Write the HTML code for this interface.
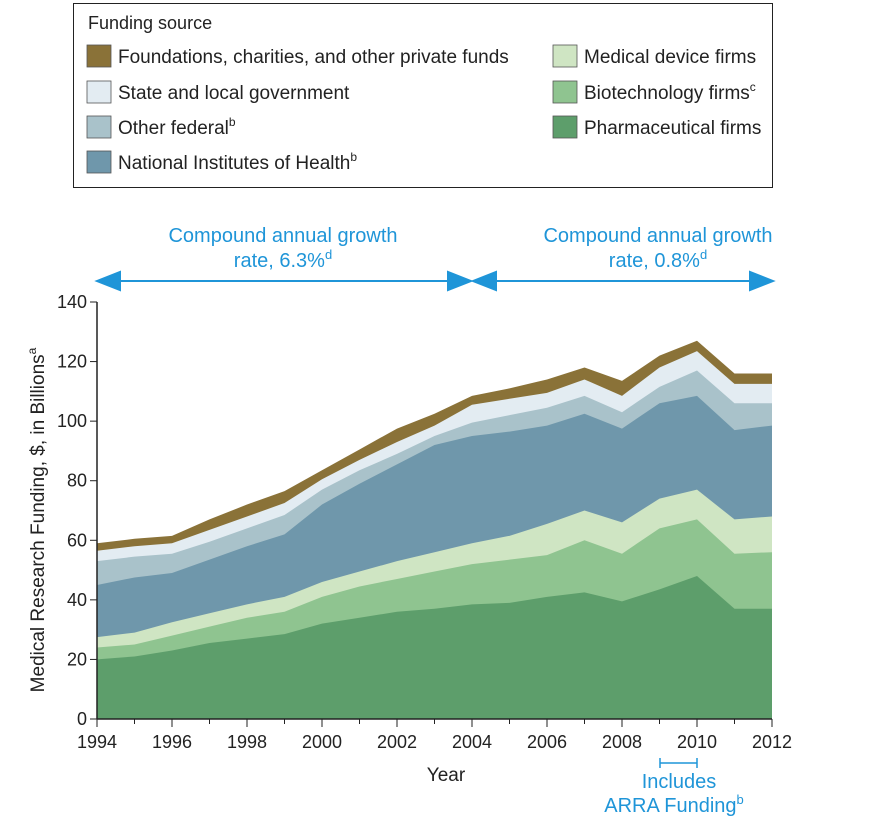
<!DOCTYPE html>
<html><head><meta charset="utf-8"><style>
body{margin:0;background:#fff;font-family:"Liberation Sans",sans-serif;}
</style></head><body>
<svg id="s" width="880" height="823" xmlns="http://www.w3.org/2000/svg" font-family="Liberation Sans, sans-serif">
<rect x="73.5" y="3.5" width="699" height="184" fill="#fff" stroke="#222" stroke-width="1"/>
<text x="88" y="29" font-size="18" fill="#222">Funding source</text>
<g font-size="17" fill="#222" stroke="#555" stroke-width="0.8">
<rect x="87" y="45" width="24" height="22" fill="#8a7238"/>
<rect x="87" y="81" width="24" height="22" fill="#e3ecf2"/>
<rect x="87" y="116" width="24" height="22" fill="#a9c2ca"/>
<rect x="87" y="151" width="24" height="22" fill="#6f97ab"/>
<rect x="553" y="45" width="24" height="22" fill="#cfe5c3"/>
<rect x="553" y="81" width="24" height="22" fill="#8fc490"/>
<rect x="553" y="116" width="24" height="22" fill="#5d9e6b"/>
</g>
<g font-size="19" fill="#222">
<text x="118" y="63">Foundations, charities, and other private funds</text>
<text x="118" y="99">State and local government</text>
<text x="118" y="134">Other federal<tspan font-size="12" dy="-8">b</tspan></text>
<text x="118" y="169">National Institutes of Health<tspan font-size="12" dy="-8">b</tspan></text>
<text x="584" y="63">Medical device firms</text>
<text x="584" y="99">Biotechnology firms<tspan font-size="12" dy="-8">c</tspan></text>
<text x="584" y="134">Pharmaceutical firms</text>
</g>
<g id="areas"></g>
<g fill="#1f95d8" font-size="20" text-anchor="middle">
<text x="283" y="242">Compound annual growth</text>
<text x="283" y="267">rate, 6.3%<tspan font-size="13" dy="-8">d</tspan></text>
<text x="658" y="242">Compound annual growth</text>
<text x="658" y="267">rate, 0.8%<tspan font-size="13" dy="-8">d</tspan></text>
<text x="679" y="788">Includes</text>
<text x="674" y="812">ARRA Funding<tspan font-size="13" dy="-8">b</tspan></text>
</g>
<g stroke="#1f95d8" stroke-width="2" fill="#1f95d8">
<line x1="110" y1="281" x2="458" y2="281"/>
<polygon points="97,281 120,272 120,290"/>
<polygon points="471,281 448,272 448,290"/>
<line x1="486" y1="281" x2="760" y2="281"/>
<polygon points="473,281 496,272 496,290"/>
<polygon points="773,281 750,272 750,290"/>
<line x1="660" y1="763" x2="697" y2="763" stroke-width="1.5"/>
<line x1="660" y1="758" x2="660" y2="768" stroke-width="1.5"/>
<line x1="697" y1="758" x2="697" y2="768" stroke-width="1.5"/>
</g>
<g id="axes"></g>
<text x="446" y="781" font-size="19" fill="#222" text-anchor="middle">Year</text>
<text transform="translate(44,520) rotate(-90)" font-size="19" fill="#222" text-anchor="middle">Medical Research Funding, $, in Billions<tspan font-size="12" dy="-8">a</tspan></text>
</svg>
<script>
var X=function(i){return 97+i*37.5},Y=function(v){return 719-v*417/140};
var L=[
[20,21,23,25.5,27,28.5,32,34,36,37,38.5,39,41,42.5,39.5,43.5,48,37,37],
[24,25,28,31,34,36,41,44.5,47,49.5,52,53.5,55,60,55.5,64,67,55.5,56],
[27.5,29,32.5,35.5,38.5,41,46,49.5,53,56,59,61.5,65.5,70,66,74,77,67,68],
[45,47.5,49,53.5,58,62,72,79,85.5,92,95,96.5,98.5,102.5,97.5,106,108.5,97,98.5],
[53,54.5,55.5,59.5,64,68.5,77,83.5,89,95,99.5,102,104.5,108.5,103,111.5,117,106,106],
[56.5,58,59,63.5,68,72.5,80.5,87,93,98.5,105.5,107.5,109.5,114,108.5,118,123.5,112.5,112.5],
[59,60.5,61.5,67,72,76.5,83.5,90.5,97.5,102.5,108.5,111,114,118,113.5,122,127,116,116]];
var C=["#5d9e6b","#8fc490","#cfe5c3","#6f97ab","#a9c2ca","#e3ecf2","#8a7238"];
var h="";
for(var k=6;k>=0;k--){var p=[X(0)+","+Y(0)];for(var i=0;i<19;i++)p.push(X(i)+","+Y(L[k][i]));p.push(X(18)+","+Y(0));
h+='<polygon points="'+p.join(" ")+'" fill="'+C[k]+'"/>';}
document.getElementById("areas").innerHTML=h;
var a='<line x1="97" y1="302" x2="97" y2="719" stroke="#222" stroke-width="1.5"/><line x1="97" y1="719" x2="772" y2="719" stroke="#222" stroke-width="1.5"/>';
for(var v=0;v<=140;v+=20){a+='<line x1="90" y1="'+Y(v)+'" x2="97" y2="'+Y(v)+'" stroke="#222"/><text x="87" y="'+(Y(v)+6)+'" font-size="18" fill="#222" text-anchor="end">'+v+'</text>';}
for(var i=0;i<19;i++){a+='<line x1="'+X(i)+'" y1="719" x2="'+X(i)+'" y2="'+(i%2?724:727)+'" stroke="#222"/>';if(i%2==0)a+='<text x="'+X(i)+'" y="748" font-size="18" fill="#222" text-anchor="middle">'+(1994+i)+'</text>';}
document.getElementById("axes").innerHTML=a;
</script>
</body></html>
